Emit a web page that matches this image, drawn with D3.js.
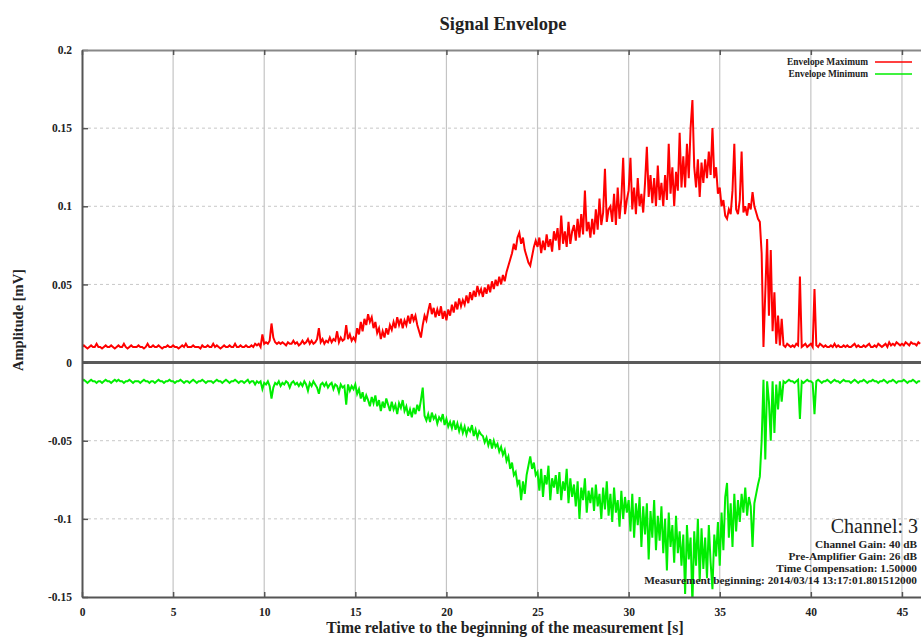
<!DOCTYPE html>
<html>
<head>
<meta charset="utf-8">
<script src="https://cdn.jsdelivr.net/npm/d3@7"></script>
<style>
  html, body { margin: 0; padding: 0; background: #fff; }
  svg { display: block; }
  text { font-family: "Liberation Serif", "DejaVu Serif", serif; fill: #222; }
</style>
</head>
<body>
<svg id="chart" width="921" height="637"></svg>
<script>
// Envelope samples, one every 0.1 s from t = 0 s, in µV.
const SAMPLE_INTERVAL_S = 0.1;

const envelopeMaximum = [
  10,11,10,9,10,11,10,10,12,10,
  10,9,10,11,10,10,11,10,9,10,
  11,10,10,12,10,9,10,11,10,10,
  10,11,10,10,9,10,12,10,10,11,
  10,10,11,10,9,10,10,11,10,10,
  11,10,10,9,10,11,10,12,10,10,
  10,11,10,10,10,9,11,10,10,11,
  10,10,12,10,11,10,9,10,11,10,
  10,11,10,10,12,10,10,11,10,10,
  11,10,10,11,10,12,11,12,10,18,
  12,13,12,14,25,16,13,12,13,12,
  13,12,11,13,12,12,14,12,13,11,
  12,14,12,13,15,12,14,12,13,15,
  22,13,15,12,14,13,16,13,15,14,
  20,13,16,14,15,24,15,18,14,16,
  14,22,18,26,20,28,24,31,26,29,
  22,26,19,22,15,20,16,22,18,24,
  21,26,22,29,24,28,22,27,24,30,
  25,31,27,30,24,20,16,24,30,27,
  33,38,31,35,29,34,30,36,28,33,
  27,34,30,37,32,39,34,41,36,40,
  37,43,38,45,40,46,42,49,44,47,
  42,48,44,50,45,52,47,53,49,55,
  50,56,52,58,62,66,70,76,72,80,
  83,76,80,72,68,64,62,68,74,78,
  74,80,70,78,72,82,74,79,71,84,
  78,86,72,94,76,84,74,90,76,84,
  88,78,92,80,95,82,110,84,90,80,
  92,82,98,85,105,88,96,124,90,98,
  100,90,108,88,112,92,105,131,95,104,
  110,131,98,112,95,118,100,108,96,115,
  138,106,120,102,118,100,126,104,115,100,
  120,104,140,108,125,100,122,110,147,112,
  132,112,140,118,150,168,125,112,130,106,
  128,115,130,118,135,120,150,118,125,108,
  112,100,104,94,92,98,95,110,140,98,
  95,104,135,96,100,94,102,98,109,100,
  96,92,90,70,10,45,79,30,72,20,
  45,12,30,11,28,11,10,12,11,10,
  11,10,12,11,55,10,11,12,10,11,
  12,10,47,11,10,12,11,10,11,10,
  10,11,10,12,10,11,10,10,11,10,
  11,10,10,11,12,10,11,10,10,11,
  10,11,12,10,10,11,10,12,11,10,
  11,12,10,13,11,12,11,13,12,11,
  12,11,13,12,11,13,12,12,11,13,
  12
];

const envelopeMinimum = [
  -12,-11,-12,-13,-12,-11,-12,-12,-13,-12,
  -12,-13,-12,-11,-12,-12,-13,-12,-11,-12,
  -11,-12,-12,-13,-12,-12,-11,-12,-13,-12,
  -12,-12,-13,-12,-11,-12,-12,-13,-12,-12,
  -13,-12,-11,-12,-12,-13,-12,-12,-11,-12,
  -12,-13,-12,-12,-11,-12,-13,-12,-12,-13,
  -12,-11,-12,-13,-12,-12,-11,-12,-13,-12,
  -12,-12,-13,-12,-11,-12,-12,-13,-12,-11,
  -12,-13,-12,-12,-11,-12,-13,-12,-12,-13,
  -12,-11,-13,-12,-12,-14,-12,-13,-12,-17,
  -13,-14,-12,-15,-23,-16,-13,-14,-12,-15,
  -13,-14,-12,-13,-16,-13,-12,-14,-13,-15,
  -13,-15,-12,-14,-18,-13,-15,-12,-14,-16,
  -20,-14,-13,-15,-13,-16,-14,-13,-17,-14,
  -15,-19,-14,-16,-15,-27,-14,-18,-15,-17,
  -14,-20,-17,-23,-19,-25,-21,-24,-28,-22,
  -26,-21,-28,-24,-31,-25,-29,-23,-27,-31,
  -25,-30,-27,-33,-26,-29,-24,-31,-28,-34,
  -30,-35,-29,-33,-27,-31,-24,-16,-34,-37,
  -33,-38,-32,-36,-34,-39,-35,-37,-33,-40,
  -36,-41,-38,-42,-37,-43,-39,-44,-40,-45,
  -41,-46,-42,-44,-40,-47,-43,-48,-44,-46,
  -47,-51,-48,-53,-49,-55,-50,-54,-52,-57,
  -54,-59,-56,-63,-60,-68,-64,-72,-70,-78,
  -75,-88,-76,-84,-72,-66,-60,-68,-64,-72,
  -70,-82,-68,-86,-72,-78,-66,-88,-74,-80,
  -72,-84,-70,-88,-76,-82,-68,-90,-74,-86,
  -78,-92,-76,-100,-80,-88,-74,-96,-82,-90,
  -80,-95,-78,-92,-84,-100,-80,-94,-76,-98,
  -84,-102,-80,-96,-88,-105,-82,-100,-86,-96,
  -88,-108,-84,-112,-90,-104,-86,-118,-92,-110,
  -90,-126,-95,-112,-88,-120,-98,-114,-92,-122,
  -100,-133,-96,-118,-104,-128,-98,-122,-108,-130,
  -110,-148,-104,-126,-112,-155,-108,-130,-100,-140,
  -106,-132,-112,-138,-104,-128,-145,-110,-124,-102,
  -130,-96,-120,-86,-77,-112,-90,-118,-84,-108,
  -88,-102,-84,-96,-80,-98,-86,-92,-118,-90,
  -84,-78,-73,-50,-11,-62,-12,-25,-50,-12,
  -45,-14,-30,-12,-25,-12,-13,-12,-11,-12,
  -12,-13,-12,-11,-36,-12,-13,-12,-11,-12,
  -12,-13,-33,-12,-11,-12,-13,-12,-12,-11,
  -12,-13,-12,-11,-12,-12,-13,-12,-11,-12,
  -12,-12,-13,-12,-11,-12,-13,-12,-12,-11,
  -12,-13,-12,-12,-11,-12,-12,-13,-12,-12,
  -11,-12,-13,-12,-12,-11,-12,-13,-12,-12,
  -12,-11,-12,-13,-12,-12,-11,-12,-13,-12,
  -12
];

const xTickValues = [0, 5, 10, 15, 20, 25, 30, 35, 40, 45];
const yTickValues = [-0.15, -0.1, -0.05, 0, 0.05, 0.1, 0.15, 0.2];
const yTickLabels = ["-0.15", "-0.1", "-0.05", "0", "0.05", "0.1", "0.15", "0.2"];

const seriesNames = ["Envelope Maximum", "Envelope Minimum"];
const seriesColors = ["#ff0000", "#00ee00"];

const infoTitle = "Channel: 3";
const infoLines = [
  "Channel Gain: 40 dB",
  "Pre-Amplifier Gain: 26 dB",
  "Time Compensation: 1.50000",
  "Measurement beginning: 2014/03/14 13:17:01.801512000"
];

// ---------------------------------------------------------------
const svg = d3.select("#chart");
const plot = { left: 82, top: 50, right: 922, bottom: 597 };

const x = d3.scaleLinear().domain([0, 46.1]).range([plot.left, plot.right]);
const y = d3.scaleLinear().domain([-0.15, 0.2]).range([plot.bottom, plot.top]);

const toPoints = arr => arr.map((v, i) => [i * SAMPLE_INTERVAL_S, v / 1000]);
const series = [toPoints(envelopeMaximum), toPoints(envelopeMinimum)];

svg.append("defs").append("clipPath").attr("id", "plot-clip")
  .append("rect")
  .attr("x", plot.left).attr("y", plot.top)
  .attr("width", plot.right - plot.left).attr("height", plot.bottom - plot.top);

// grid: solid verticals, dashed horizontals
const grid = svg.append("g");
grid.selectAll("line.vg").data(xTickValues.filter(d => d > 0)).join("line")
  .attr("x1", d => x(d)).attr("x2", d => x(d))
  .attr("y1", plot.top).attr("y2", plot.bottom)
  .attr("stroke", "#c4c4c4").attr("stroke-width", 1.2);
grid.selectAll("line.hg").data(yTickValues.filter(d => d !== 0 && d !== 0.2 && d !== -0.15)).join("line")
  .attr("x1", plot.left).attr("x2", plot.right)
  .attr("y1", d => y(d)).attr("y2", d => y(d))
  .attr("stroke", "#c8c8c8").attr("stroke-width", 1)
  .attr("stroke-dasharray", "3,3");

// zero line
svg.append("line")
  .attr("x1", plot.left).attr("x2", plot.right)
  .attr("y1", y(0)).attr("y2", y(0))
  .attr("stroke", "#5a5a5a").attr("stroke-width", 3);

// envelope traces
const line = d3.line().x(d => x(d[0])).y(d => y(d[1]));
svg.append("g").attr("clip-path", "url(#plot-clip)")
  .selectAll("path").data(series).join("path")
  .attr("d", line)
  .attr("fill", "none")
  .attr("stroke", (d, i) => seriesColors[i])
  .attr("stroke-width", 2)
  .attr("stroke-linejoin", "miter");

// axes
const yAxis = d3.axisLeft(y).tickValues(yTickValues)
  .tickFormat((d, i) => yTickLabels[i])
  .tickSize(-6).tickSizeOuter(0).tickPadding(10);
const gy = svg.append("g").attr("transform", `translate(${plot.left},0)`).call(yAxis);

const xAxis = d3.axisBottom(x).tickValues(xTickValues)
  .tickSize(-5).tickSizeOuter(0).tickPadding(11);
const gx = svg.append("g").attr("transform", `translate(0,${plot.bottom})`).call(xAxis);

const xTop = d3.axisTop(x).tickValues(xTickValues).tickFormat("")
  .tickSize(-5).tickSizeOuter(0);
const gt = svg.append("g").attr("transform", `translate(0,${plot.top})`).call(xTop);

[gx, gy, gt].forEach(g => {
  g.select(".domain").attr("stroke", "#555").attr("stroke-width", 2);
  g.selectAll(".tick line").attr("stroke", "#555").attr("stroke-width", 1.5);
  g.selectAll(".tick text")
    .attr("font-family", "Liberation Serif, serif")
    .attr("font-size", 11.5).attr("font-weight", "bold").attr("fill", "#333");
});
gt.select(".domain").attr("stroke", "#888");

// titles
svg.append("text")
  .attr("x", 503).attr("y", 30)
  .attr("text-anchor", "middle")
  .attr("font-size", 18.5).attr("font-weight", "bold")
  .text("Signal Envelope");

svg.append("text")
  .attr("x", 505).attr("y", 633)
  .attr("text-anchor", "middle")
  .attr("font-size", 15.7).attr("font-weight", "bold")
  .text("Time relative to the beginning of the measurement [s]");

svg.append("text")
  .attr("transform", "translate(23,320) rotate(-90)")
  .attr("text-anchor", "middle")
  .attr("font-size", 14.5).attr("font-weight", "bold")
  .text("Amplitude [mV]");

// legend
const legend = svg.append("g");
seriesNames.forEach((name, i) => {
  const ly = 62 + i * 12;
  legend.append("text")
    .attr("x", 868).attr("y", ly + 3)
    .attr("text-anchor", "end")
    .attr("font-size", 9.4).attr("font-weight", "bold")
    .text(name);
  legend.append("line")
    .attr("x1", 875).attr("x2", 912)
    .attr("y1", ly).attr("y2", ly)
    .attr("stroke", seriesColors[i]).attr("stroke-width", 1.6);
});

// measurement info block
const info = svg.append("g").attr("text-anchor", "end");
info.append("text")
  .attr("x", 918).attr("y", 533)
  .attr("font-size", 20)
  .text(infoTitle);
infoLines.forEach((t, i) => {
  info.append("text")
    .attr("x", 917).attr("y", 547.5 + i * 12.3)
    .attr("font-size", 11.3).attr("font-weight", "bold")
    .text(t);
});
</script>
</body>
</html>
